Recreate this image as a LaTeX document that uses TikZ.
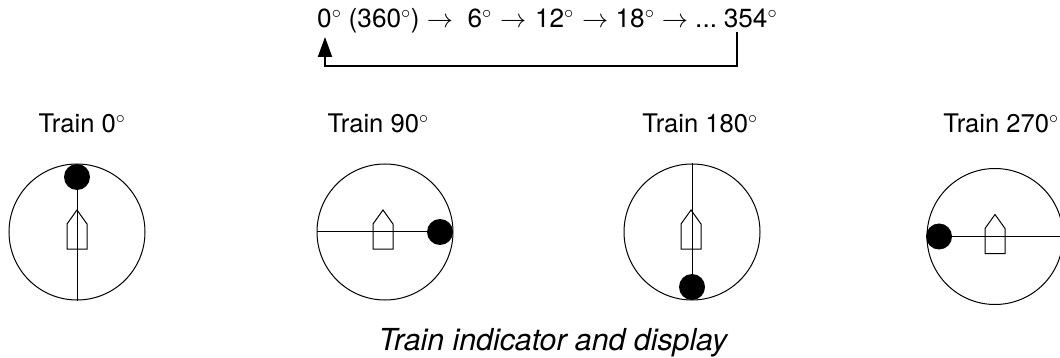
\documentclass[tikz,border=0pt]{standalone}
\usepackage{fix-cm}
\usepackage{fontspec}
\setmainfont{TeX Gyre Heros}
\usetikzlibrary{arrows.meta,positioning,calc}
\tikzset{
  dial/.style={draw,circle,minimum size=136pt,inner sep=0pt,line width=1pt},
  dot/.style={circle,fill=black,minimum size=26pt,inner sep=0pt},
  ptr/.style={line width=1pt},
  hull/.style={draw,line width=1pt},
  lbl/.style={font=\fontsize{25.6}{30}\selectfont,inner sep=0pt,anchor=base},
  seq/.style={font=\fontsize{26.2}{30}\selectfont,inner sep=0pt,anchor=base west},
  captxt/.style={font=\fontsize{30.3}{34}\selectfont\itshape,inner sep=0pt,anchor=base west},
  arr/.style={-{Triangle[length=20pt,width=14pt]},line width=2pt}
}
\begin{document}
\begin{tikzpicture}[x=1pt,y=-1pt]
  \clip (0,0) rectangle (1060,358);
  % Sequence of bearings
  \node[seq] (seqtext) at (317,28) {0$^\circ$ (360$^\circ$) $\rightarrow$\ \ 6$^\circ$\kern1pt{} $\rightarrow$\kern1.5pt{} 12$^\circ$\kern1pt{} $\rightarrow$ 18$^\circ$ $\rightarrow$ ...\kern-3pt{} 354$^\circ$};
  \coordinate (loopa) at (737,32);
  \coordinate (loopb) at (325,37);
  \coordinate (loopy) at (0,66);
  \draw[arr] (loopa) -- (loopa |- loopy) -- (loopb |- loopy) -- (loopb);

  % Labels
  \node[lbl] (lbl0) at (82,133) {Train 0$^\circ$};
  \node[lbl] (lbl90) at (378,133) {Train 90$^\circ$};
  \node[lbl] (lbl180) at (700,133) {Train 180$^\circ$};
  \node[lbl] (lbl270) at (1001,133) {Train 270$^\circ$};

  % Dials
  \node[dial] (dial0) at (77,232) {};
  \node[dial] (dial90) at (385,232) {};
  \node[dial] (dial180) at (692,232) {};
  \node[dial] (dial270) at (995,236.5) {};

  % Dots
  \node[dot] (dot0) at (77,177) {};
  \node[dot] (dot90) at (440,232) {};
  \node[dot] (dot180) at (692,287) {};
  \node[dot] (dot270) at (939,236.5) {};

  % Pointers
  \draw[ptr] (dot0) -- (dial0.south);
  \draw[ptr] (dot90) -- (dial90.west);
  \draw[ptr] (dot180) -- (dial180.north);
  \draw[ptr] (dot270) -- (dial270.east);

  % Ship outlines
  \foreach \hx/\hy in {77/232,383/232,691/232,995/236.5}
    \draw[hull] (\hx,\hy-22) -- (\hx+10,\hy-8) -- (\hx+10,\hy+17) -- (\hx-10,\hy+17) -- (\hx-10,\hy-8) -- cycle;

  \node[captxt] (caption) at (378.5,350) {Train indicator and display};
\end{tikzpicture}
\end{document}
